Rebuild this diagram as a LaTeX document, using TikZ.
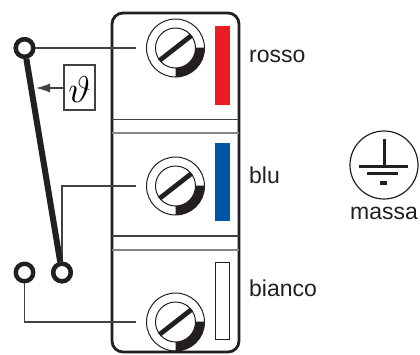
\documentclass[tikz,border=0pt]{standalone}
\usepackage{fontspec}
\setmainfont{Liberation Sans}
\usetikzlibrary{arrows.meta}
\definecolor{ink}{HTML}{231F20}
\definecolor{rossoc}{HTML}{ED1C24}
\definecolor{bluc}{HTML}{0054A6}
\tikzset{
  x=1pt,y=-1pt,
  wire/.style={draw=ink!85,line width=1.2pt},
  terminal/.style={circle,draw=ink,line width=4.4pt,fill=white,minimum size=17.5pt,inner sep=0pt},
  lbl/.style={font=\fontsize{23}{25}\selectfont,text=ink,anchor=base west,inner sep=0pt},
  bar/.style={draw=none,minimum width=15pt,inner sep=0pt},
  sep/.style={draw=ink!85,line width=1.2pt},
}
\newcommand{\screw}[2]{%
  \coordinate (#1) at (#2);
  \fill[ink] (#1) ++(90:29) arc[start angle=90,end angle=-1,radius=29] -- (#1) -- cycle;
  \draw[ink,line width=1pt] (#1) circle[radius=29];
  \fill[white] (#1) circle[radius=20];
  \draw[ink,line width=1pt] (#1) circle[radius=20];
  \draw[ink,line width=4.8pt] (#1) ++(-16,12.5) -- ++(32,-25);
}
\begin{document}
\begin{tikzpicture}
\useasboundingbox[fill=white] (0,0) rectangle (420,354);
% housing
\draw[ink,line width=2.8pt,rounded corners=11pt] (112,13) rectangle (239,352);
\draw[sep] (112,119.5) -- (239,119.5);
\draw[sep,draw=ink!55] (112,133) -- (239,133);
\draw[sep] (112,236) -- (239,236);
\draw[sep,draw=ink!55] (112,250) -- (239,250);
% screws
\screw{s1}{175.5,48}
\screw{s2}{175.5,186}
\screw{s3}{175.5,322}
\coordinate (w1) at (136,48);
\coordinate (w2) at (136,186);
\coordinate (w3) at (136,322);
% colour bars
\node[bar,fill=rossoc,minimum height=79pt] (red) at (222.5,65.5) {};
\node[bar,fill=bluc,minimum height=78pt] (blue) at (222.5,182) {};
\node[draw=ink,line width=1pt,minimum width=14pt,minimum height=77pt,inner sep=0pt,fill=white] (white) at (222.5,300.5) {};
% terminals
\node[terminal] (t1) at (24.5,48) {};
\node[terminal] (t2) at (24.5,272.5) {};
\node[terminal] (t3) at (62,272.5) {};
% wires
\draw[wire] (t1) -- (w1);
\draw[wire] (t3) |- (w2);
\draw[wire] (t2) |- (w3);
% blade
\draw[ink,line width=6pt] (t1) -- (t3);
\node[terminal] at (t1) {};
\node[terminal] at (t3) {};
% thermal element
\node[draw=ink!85,line width=1.1pt,minimum width=31pt,minimum height=45pt,inner sep=0pt,text height=30pt,text depth=0pt] (th) at (79.5,87.5) {\scalebox{1.55}[1.5]{\fontsize{34}{36}\selectfont$\vartheta$}};
\coordinate (bl) at (36,88);
\draw[wire,-{Latex[length=14pt,width=9pt]}] (th.west |- bl) -- (bl);
% labels
\node[lbl] (l1) at (249,62) {rosso};
\node[lbl] (l2) at (249,183) {blu};
\node[lbl] (l3) at (249,296) {bianco};
% earth
\node[circle,draw=ink,line width=1.2pt,minimum size=68pt,inner sep=0pt] (gnd) at (384,165) {};
\draw[ink,line width=3pt] (384,139) -- (384,166);
\draw[ink,line width=3pt] (359,166) -- (408,166);
\draw[ink,line width=3.6pt] (367,173.5) -- (398,173.5);
\draw[ink,line width=3.6pt] (380,183) -- (387,183);
\node[lbl,anchor=base] (l4) at (384,219) {massa};
\end{tikzpicture}
\end{document}
